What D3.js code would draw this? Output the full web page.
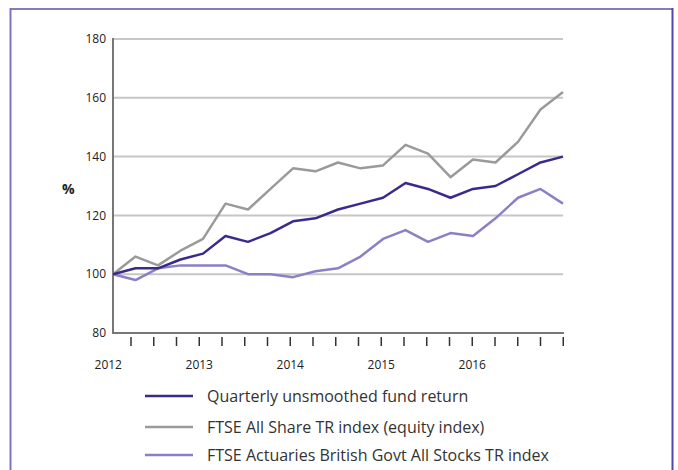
<!DOCTYPE html>
<html><head><meta charset="utf-8">
<script src="https://cdn.jsdelivr.net/npm/d3@7"></script>
<style>body{margin:0;background:#fff}svg{display:block}text{font-family:"Open Sans","Noto Sans",sans-serif}</style>
</head><body><div id="chart"></div>
<script>
const quarters = d3.range(21);
const yearLabels = ["2012","2013","2014","2015","2016"];
const yTicks = [80,100,120,140,160,180];
const seriesNames = ["Quarterly unsmoothed fund return","FTSE All Share TR index (equity index)","FTSE Actuaries British Govt All Stocks TR index"];
const fundReturn = [100,102,102,105,107,113,111,114,118,119,122,124,126,131,129,126,129,130,134,138,140];
const equityIndex = [100,106,103,108,112,124,122,129,136,135,138,136,137,144,141,133,139,138,145,156,162];
const giltIndex = [100,98,102,103,103,103,100,100,99,101,102,106,112,115,111,114,113,119,126,129,124];
const colors = ["#3b2a8c","#9a9a9a","#8b80c6"];

const W=678,H=470;
const svg=d3.select("#chart").append("svg").attr("width",W).attr("height",H);
// frame
svg.append("line").attr("x1",10).attr("x2",673).attr("y1",9).attr("y2",9).attr("stroke","#867bc0").attr("stroke-width",2);
svg.append("line").attr("x1",10.5).attr("x2",10.5).attr("y1",8).attr("y2",H).attr("stroke","#7e74bd").attr("stroke-width",2);
svg.append("line").attr("x1",672.5).attr("x2",672.5).attr("y1",8).attr("y2",H).attr("stroke","#4f45b3").attr("stroke-width",2);

const x=d3.scaleLinear().domain([0,20]).range([113,563]);
const xt=d3.scaleLinear().domain([0,20]).range([108.25,563.25]);
const y=d3.scaleLinear().domain([80,180]).range([333,39]);

// gridlines
svg.append("g").selectAll("line").data(yTicks.filter(d=>d>80)).join("line")
 .attr("x1",113).attr("x2",563).attr("y1",d=>y(d)).attr("y2",d=>y(d))
 .attr("stroke","#c6c6c6").attr("stroke-width",2);
// y labels
svg.append("g").selectAll("text").data(yTicks).join("text")
 .attr("x",106).attr("y",d=>y(d)).attr("dy","0.35em").attr("text-anchor","end")
 .attr("font-size",12).attr("fill","#222").text(d=>d);
svg.append("text").attr("x",62).attr("y",189).attr("dy","0.35em").attr("font-size",14).attr("font-weight","bold").attr("fill","#222").text("%");
// axes lines
svg.append("path").attr("d",`M113,${y(180)-1}V${y(80)}H564`).attr("fill","none").attr("stroke","#777").attr("stroke-width",2);
// ticks
svg.append("g").selectAll("line").data(d3.range(1,21)).join("line")
 .attr("x1",d=>xt(d)).attr("x2",d=>xt(d)).attr("y1",337).attr("y2",346)
 .attr("stroke","#333").attr("stroke-width",1.5);
svg.append("g").selectAll("text").data(yearLabels).join("text")
 .attr("x",(d,i)=>xt(i*4)).attr("y",365).attr("dy","0.35em").attr("text-anchor","middle")
 .attr("font-size",12).attr("fill","#222").text(d=>d);

const line=d3.line().x((d,i)=>x(quarters[i])).y(d=>y(d));
[[equityIndex,1],[giltIndex,2],[fundReturn,0]].forEach(([s,c])=>{
 svg.append("path").attr("d",line(s)).attr("fill","none").attr("stroke",colors[c]).attr("stroke-width",2.5).attr("stroke-linejoin","round");
});

// legend
const lg=svg.append("g").selectAll("g").data(seriesNames).join("g").attr("transform",(d,i)=>`translate(0,${[396,427,455][i]})`);
lg.append("line").attr("x1",145).attr("x2",193).attr("stroke",(d,i)=>colors[i]).attr("stroke-width",2.5);
lg.append("text").attr("x",207).attr("dy","0.35em").attr("font-size",16).attr("fill","#333").text(d=>d);
</script></body></html>
